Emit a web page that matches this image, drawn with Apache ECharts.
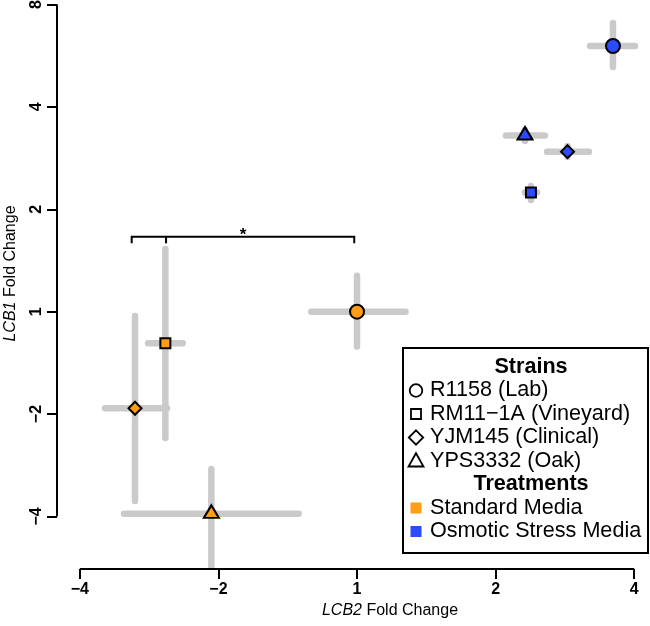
<!DOCTYPE html>
<html>
<head>
<meta charset="utf-8">
<script src="https://cdn.jsdelivr.net/npm/echarts@6/dist/echarts.min.js"></script>
<style>html,body{margin:0;padding:0;background:#fff}#c{width:650px;height:626px}</style>
</head>
<body>
<div id="c"></div>
<script>
// ---- data (log2 fold change) ----
const strains = ['R1158 (Lab)', 'RM11\u22121A (Vineyard)', 'YJM145 (Clinical)', 'YPS3332 (Oak)'];
const strainSymbols = ['circle', 'rect', 'diamond', 'triangle'];
const treatments = ['Standard Media', 'Osmotic Stress Media'];

const stdX   = [0.00, -1.383, -1.602, -1.051];
const stdXLo = [-0.33, -1.508, -1.818, -1.681];
const stdXHi = [0.35, -1.258, -1.371, -0.421];
const stdY   = [0.00, -0.309, -0.943, -1.974];
const stdYLo = [-0.34, -1.233, -1.849, -2.60];
const stdYHi = [0.35, 0.612, -0.042, -1.536];

const osmX   = [1.847, 1.255, 1.519, 1.212];
const osmXLo = [1.681, 1.212, 1.371, 1.075];
const osmXHi = [2.006, 1.299, 1.674, 1.356];
const osmY   = [2.595, 1.164, 1.563, 1.721];
const osmYLo = [2.39, 1.091, 1.51, 1.667];
const osmYHi = [2.82, 1.228, 1.618, 1.775];

const xTicks = [-2, -1, 0, 1, 2];
const xTickLabels = ['\u22124', '\u22122', '1', '2', '4'];
const yTicks = [-2, -1, 0, 1, 2, 3];
const yTickLabels = ['\u22124', '\u22122', '1', '2', '4', '8'];

const bracketX = [-1.626, -1.378, -0.020];
const bracketY = 0.732;
const bracketLabel = '*';

// ---- layout ----
const X_MIN = -2.165, X_MAX = 2.641, Y_MIN = -2.513, Y_MAX = 3.259;
const FONT = 'Liberation Sans, Arial, Helvetica, sans-serif';
const colors = ['#FF9D14', '#2A4BFF'];
const symSize = {circle: 14, rect: 10, diamond: 13, triangle: [15, 12.5]};
const symOffset = {circle: [0, 0], rect: [0, 0], diamond: [0, 0], triangle: [0, -2.2]};

function lookup(ticks, labels, v) {
  for (let i = 0; i < ticks.length; i++) if (Math.abs(ticks[i] - v) < 1e-6) return labels[i];
  return '';
}

function errData(X, XLo, XHi, Y, YLo, YHi) {
  return X.map((x, i) => [x, Y[i], XLo[i], XHi[i], YLo[i], YHi[i]]);
}
function pointData(X, Y) {
  return X.map((x, i) => ({
    value: [x, Y[i]],
    symbol: strainSymbols[i],
    symbolSize: symSize[strainSymbols[i]],
    symbolOffset: symOffset[strainSymbols[i]]
  }));
}
function renderErr(params, api) {
  const x = api.value(0), y = api.value(1);
  const a = api.coord([api.value(2), y]), b = api.coord([api.value(3), y]);
  const c = api.coord([x, api.value(4)]), d = api.coord([x, api.value(5)]);
  const st = {stroke: '#CACACA', lineWidth: 6.5, lineCap: 'round'};
  return {type: 'group', children: [
    {type: 'line', shape: {x1: a[0], y1: a[1], x2: b[0], y2: b[1]}, style: st},
    {type: 'line', shape: {x1: c[0], y1: c[1], x2: d[0], y2: d[1]}, style: st}
  ]};
}

const chart = echarts.init(document.getElementById('c'), null, {renderer: 'canvas'});

const legendX = 403, legendY = 348, legendW = 245, legendH = 205;
const rowY0 = 367, rowStep = 23.5, symX = 416, textX = 430, headX = 531;
const legendChildren = [
  {type: 'rect', shape: {x: legendX, y: legendY, width: legendW, height: legendH},
   style: {fill: '#fff', stroke: '#000', lineWidth: 2}}
];
function rowText(txt, y, bold, center) {
  return {type: 'text', x: center ? headX : textX, y: y,
    style: {text: txt, fill: '#000', font: (bold ? 'bold ' : '') + '21.6px ' + FONT,
      textAlign: center ? 'center' : 'left', textVerticalAlign: 'middle'}};
}
legendChildren.push(rowText('Strains', rowY0, true, true));
strains.forEach((s, i) => {
  const y = rowY0 + rowStep * (i + 1);
  const st = {fill: 'none', stroke: '#000', lineWidth: 1.8};
  const sym = strainSymbols[i];
  if (sym === 'circle') legendChildren.push({type: 'circle', shape: {cx: symX, cy: y, r: 6.3}, style: st});
  else if (sym === 'rect') legendChildren.push({type: 'rect', shape: {x: symX - 5, y: y - 5, width: 10, height: 10}, style: st});
  else if (sym === 'diamond') legendChildren.push({type: 'polygon', shape: {points: [[symX, y - 7.2], [symX + 7.2, y], [symX, y + 7.2], [symX - 7.2, y]]}, style: st});
  else legendChildren.push({type: 'polygon', shape: {points: [[symX, y - 7.8], [symX + 7.5, y + 5.5], [symX - 7.5, y + 5.5]]}, style: st});
  legendChildren.push(rowText(s, y, false, false));
});
legendChildren.push(rowText('Treatments', rowY0 + rowStep * 5, true, true));
treatments.forEach((t, i) => {
  const y = rowY0 + rowStep * (6 + i);
  legendChildren.push({type: 'rect', shape: {x: symX - 5.5, y: y - 5.5, width: 11, height: 11}, style: {fill: colors[i], stroke: 'none'}});
  legendChildren.push(rowText(t, y, false, false));
});

const option = {
  animation: false,
  backgroundColor: '#fff',
  grid: {left: 57, right: -73, top: -22, bottom: 57, outerBoundsMode: 'none', containLabel: false},
  xAxis: {
    type: 'value', min: X_MIN, max: X_MAX,
    axisLine: {show: false, onZero: false}, splitLine: {show: false},
    axisTick: {show: true, customValues: xTicks, length: 10, lineStyle: {color: '#000', width: 2}},
    axisLabel: {customValues: xTicks, formatter: v => lookup(xTicks, xTickLabels, v),
      color: '#000', fontSize: 16, fontWeight: 'bold', fontFamily: FONT, margin: 13},
    name: '{i|LCB2} Fold Change', nameLocation: 'middle', nameGap: 34,
    nameTextStyle: {color: '#000', fontSize: 16, fontFamily: FONT,
      rich: {i: {fontStyle: 'italic', fontSize: 16, fontFamily: FONT, color: '#000'}}}
  },
  yAxis: {
    type: 'value', min: Y_MIN, max: Y_MAX,
    axisLine: {show: false, onZero: false}, splitLine: {show: false},
    axisTick: {show: true, customValues: yTicks, length: 10, lineStyle: {color: '#000', width: 2}},
    axisLabel: {customValues: yTicks, formatter: v => lookup(yTicks, yTickLabels, v), rotate: 90,
      color: '#000', fontSize: 16, fontWeight: 'bold', fontFamily: FONT, margin: 12},
    name: '{i|LCB1} Fold Change', nameLocation: 'middle', nameGap: 38,
    nameTextStyle: {color: '#000', fontSize: 16, fontFamily: FONT,
      rich: {i: {fontStyle: 'italic', fontSize: 16, fontFamily: FONT, color: '#000'}}}
  },
  graphic: [{type: 'group', z: 100, children: legendChildren}],
  series: [
    {type: 'line', data: [[X_MIN, yTicks[0]], [X_MIN, yTicks[yTicks.length - 1]]], symbol: 'none',
     lineStyle: {color: '#000', width: 2}, clip: false, silent: true, z: 10},
    {type: 'line', data: [[xTicks[0], Y_MIN], [xTicks[xTicks.length - 1], Y_MIN]], symbol: 'none',
     lineStyle: {color: '#000', width: 2}, clip: false, silent: true, z: 10},
    {type: 'custom', name: 'err-std', renderItem: renderErr, clip: true, silent: true, z: 1,
     data: errData(stdX, stdXLo, stdXHi, stdY, stdYLo, stdYHi)},
    {type: 'custom', name: 'err-osm', renderItem: renderErr, clip: true, silent: true, z: 1,
     data: errData(osmX, osmXLo, osmXHi, osmY, osmYLo, osmYHi)},
    {type: 'custom', name: 'bracket', clip: false, silent: true, z: 5,
     data: [[bracketX[0], bracketY]],
     renderItem: function (params, api) {
       const p = bracketX.map(x => api.coord([x, bracketY]));
       const drop = 6.6;
       const st = {stroke: '#000', lineWidth: 2, fill: 'none'};
       const mx = (p[0][0] + p[2][0]) / 2;
       return {type: 'group', children: [
         {type: 'polyline', shape: {points: [[p[0][0], p[0][1] + drop], [p[0][0], p[0][1]], [p[2][0], p[2][1]], [p[2][0], p[2][1] + drop]]}, style: st},
         {type: 'line', shape: {x1: p[1][0], y1: p[1][1], x2: p[1][0], y2: p[1][1] + drop}, style: st},
         {type: 'text', x: mx, y: p[0][1] - 1, style: {text: bracketLabel, font: 'bold 17px ' + FONT, fill: '#000', textAlign: 'center', textVerticalAlign: 'middle'}}
       ]};
     }},
    {type: 'scatter', name: treatments[0], data: pointData(stdX, stdY), z: 3,
     itemStyle: {color: colors[0], borderColor: '#000', borderWidth: 2, opacity: 1}},
    {type: 'scatter', name: treatments[1], data: pointData(osmX, osmY), z: 3,
     itemStyle: {color: colors[1], borderColor: '#000', borderWidth: 2, opacity: 1}}
  ]
};
chart.setOption(option);
</script>
</body>
</html>
